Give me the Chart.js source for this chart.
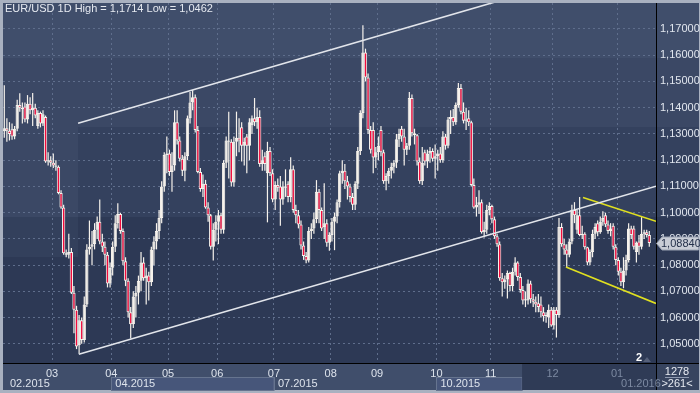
<!DOCTYPE html>
<html><head><meta charset="utf-8">
<script src="https://cdn.jsdelivr.net/npm/chart.js@4/dist/chart.umd.min.js"></script>
<style>html,body{margin:0;padding:0;background:#a9b1c0;}canvas{display:block;}</style>
</head><body><canvas id="c" width="700" height="393"></canvas>
<script>
const opens=[1.1310,1.1322,1.1312,1.1318,1.1290,1.1320,1.1410,1.1400,1.1405,1.1355,
1.1415,1.1390,1.1400,1.1330,1.1380,1.1340,1.1365,1.1195,1.1200,1.1190,
1.1180,1.1175,1.1075,1.1020,1.0845,1.0840,1.0850,1.0695,1.0630,1.0495,
1.0590,1.0515,1.0650,1.0860,1.0870,1.0880,1.0935,1.0965,1.0890,1.0870,
1.0840,1.0730,1.0790,1.0870,1.0960,1.0995,1.0930,1.0815,1.0740,1.0620,
1.0575,1.0680,1.0695,1.0740,1.0810,1.0750,1.0760,1.0735,1.0860,1.0890,
1.0930,1.0980,1.1100,1.1220,1.1225,1.1155,1.1180,1.1345,1.1275,1.1205,
1.1160,1.1215,1.1360,1.1420,1.1440,1.1315,1.1155,1.1090,1.1110,1.1020,
1.0990,1.0870,1.0935,1.0965,1.0990,1.0935,1.1190,1.1275,1.1270,1.1115,
1.1270,1.1285,1.1325,1.1255,1.1290,1.1255,1.1333,1.1360,1.1345,1.1365,
1.1185,1.1215,1.1150,1.1235,1.1150,1.1050,1.1105,1.1100,1.1050,1.1100,
1.1110,1.1060,1.1165,1.1010,1.0990,1.0955,1.0875,1.0835,1.0818,1.0930,
1.0940,1.0975,1.1080,1.1010,1.0945,1.0960,1.0885,1.0915,1.0965,1.0985,
1.1040,1.1150,1.1160,1.1120,1.1100,1.1060,1.1030,1.1110,1.1235,1.1380,
1.1610,1.1515,1.1315,1.1315,1.1210,1.1230,1.1315,1.1230,1.1120,1.1140,
1.1160,1.1175,1.1190,1.1280,1.1320,1.1290,1.1240,1.1255,1.1437,1.1303,
1.1295,1.1195,1.1120,1.1230,1.1195,1.1225,1.1235,1.1205,1.1215,1.1225,
1.1200,1.1290,1.1255,1.1355,1.1365,1.1345,1.1410,1.1475,1.1385,1.1350,
1.1360,1.1345,1.1105,1.1020,1.1030,1.1040,1.0925,1.0935,1.1010,1.1025,
1.0975,1.0910,1.0880,1.0750,1.0735,1.0745,1.0770,1.0720,1.0775,1.0810,
1.0755,1.0705,1.0665,1.0665,1.0730,1.0670,1.0660,1.0655,1.0650,1.0620,
1.0605,1.0600,1.0630,1.0570,1.0630,1.0610,1.0945,1.0880,1.0860,1.0840,
1.0890,1.1010,1.0935,1.0990,1.0915,1.0920,1.0868,1.0810,1.0850,1.0920,
1.0960,1.0925,1.0965,1.0990,1.0955,1.0930,1.0950,1.0870,1.0820,1.0775,
1.0735,1.0780,1.0820,1.0940,1.0940,1.0850,1.0890,1.0870,1.0920,1.0925,
1.0915];
const highs=[1.1486,1.1360,1.1345,1.1340,1.1330,1.1430,1.1455,1.1420,1.1420,1.1448,
1.1440,1.1456,1.1415,1.1390,1.1385,1.1390,1.1370,1.1230,1.1215,1.1225,
1.1200,1.1180,1.1085,1.1030,1.0860,1.0920,1.0865,1.0720,1.0645,1.0610,
1.0600,1.0680,1.0880,1.0970,1.0930,1.0960,1.0985,1.1050,1.0920,1.0890,
1.0850,1.0810,1.0890,1.0990,1.1036,1.1000,1.0940,1.0830,1.0750,1.0640,
1.0700,1.0720,1.0760,1.0850,1.0830,1.0790,1.0775,1.0870,1.0910,1.0960,
1.1010,1.1120,1.1230,1.1290,1.1240,1.1230,1.1390,1.1390,1.1290,1.1220,
1.1230,1.1370,1.1460,1.1467,1.1450,1.1330,1.1170,1.1145,1.1125,1.1040,
1.0995,1.0960,1.0990,1.1010,1.1000,1.1200,1.1290,1.1385,1.1280,1.1290,
1.1385,1.1360,1.1345,1.1285,1.1300,1.1360,1.1370,1.1437,1.1400,1.1390,
1.1240,1.1230,1.1270,1.1250,1.1165,1.1120,1.1130,1.1140,1.1120,1.1165,
1.1120,1.1211,1.1180,1.1030,1.1010,1.0970,1.0890,1.0850,1.0945,1.0960,
1.1000,1.1124,1.1090,1.1020,1.1112,1.0975,1.0925,1.0980,1.1000,1.1050,
1.1160,1.1200,1.1185,1.1140,1.1110,1.1075,1.1120,1.1250,1.1390,1.1714,
1.1625,1.1530,1.1330,1.1345,1.1250,1.1290,1.1330,1.1240,1.1150,1.1170,
1.1190,1.1200,1.1300,1.1320,1.1330,1.1320,1.1265,1.1460,1.1450,1.1320,
1.1300,1.1210,1.1250,1.1240,1.1240,1.1250,1.1245,1.1260,1.1240,1.1250,
1.1310,1.1300,1.1365,1.1390,1.1395,1.1420,1.1494,1.1490,1.1420,1.1400,
1.1390,1.1350,1.1130,1.1060,1.1085,1.1050,1.0965,1.1030,1.1040,1.1030,
1.0985,1.0920,1.0890,1.0770,1.0760,1.0780,1.0775,1.0790,1.0830,1.0815,
1.0770,1.0720,1.0700,1.0745,1.0740,1.0690,1.0680,1.0690,1.0680,1.0640,
1.0620,1.0650,1.0640,1.0640,1.0640,1.0980,1.0960,1.0900,1.0880,1.0900,
1.1030,1.1040,1.1010,1.1060,1.0950,1.0925,1.0870,1.0860,1.0935,1.0960,
1.0970,1.0985,1.1005,1.1000,1.0970,1.0960,1.0960,1.0880,1.0830,1.0790,
1.0830,1.0840,1.0960,1.0950,1.0950,1.0890,1.0915,1.0983,1.0935,1.0935,
1.0930];
const lows=[1.1285,1.1270,1.1275,1.1278,1.1280,1.1310,1.1385,1.1340,1.1345,1.1340,
1.1375,1.1330,1.1360,1.1320,1.1325,1.1330,1.1190,1.1180,1.1175,1.1170,
1.1160,1.1070,1.1015,1.0840,1.0830,1.0825,1.0690,1.0540,1.0480,1.0462,
1.0500,1.0505,1.0640,1.0840,1.0800,1.0860,1.0900,1.0880,1.0850,1.0800,
1.0715,1.0715,1.0760,1.0850,1.0940,1.0920,1.0800,1.0720,1.0600,1.0520,
1.0560,1.0600,1.0650,1.0700,1.0740,1.0650,1.0665,1.0720,1.0800,1.0860,
1.0900,1.0960,1.1080,1.1150,1.1140,1.1080,1.1160,1.1260,1.1195,1.1140,
1.1120,1.1200,1.1340,1.1390,1.1305,1.1150,1.1080,1.1060,1.1015,1.0965,
1.0860,1.0818,1.0890,1.0880,1.0920,1.0920,1.1170,1.1130,1.1100,1.1100,
1.1215,1.1230,1.1195,1.1180,1.1150,1.1200,1.1300,1.1330,1.1320,1.1175,
1.1160,1.1160,1.0963,1.1140,1.1040,1.1010,1.1080,1.0950,1.1030,1.1060,
1.1040,1.1040,1.1000,1.0960,1.0940,1.0860,1.0820,1.0807,1.0810,1.0900,
1.0920,1.0960,1.0960,1.0930,1.0900,1.0870,1.0855,1.0890,1.0857,1.0960,
1.1020,1.1110,1.1090,1.1050,1.1040,1.1010,1.1010,1.1090,1.1220,1.1360,
1.1500,1.1300,1.1225,1.1150,1.1170,1.1200,1.1215,1.1110,1.1085,1.1110,
1.1130,1.1150,1.1170,1.1250,1.1270,1.1180,1.1220,1.1240,1.1290,1.1260,
1.1180,1.1110,1.1105,1.1180,1.1170,1.1190,1.1195,1.1130,1.1160,1.1190,
1.1190,1.1240,1.1245,1.1300,1.1330,1.1335,1.1400,1.1375,1.1340,1.1315,
1.1330,1.1100,1.1015,1.0985,1.0995,1.0920,1.0905,1.0920,1.0990,1.0960,
1.0900,1.0870,1.0740,1.0680,1.0710,1.0673,1.0700,1.0700,1.0760,1.0740,
1.0695,1.0650,1.0640,1.0650,1.0655,1.0640,1.0620,1.0620,1.0600,1.0585,
1.0580,1.0560,1.0565,1.0555,1.0524,1.0600,1.0870,1.0840,1.0792,1.0830,
1.0880,1.0960,1.0920,1.0910,1.0900,1.0860,1.0800,1.0800,1.0830,1.0900,
1.0910,1.0920,1.0950,1.0945,1.0920,1.0910,1.0860,1.0800,1.0760,1.0720,
1.0712,1.0760,1.0810,1.0900,1.0860,1.0810,1.0840,1.0860,1.0900,1.0905,
1.0870];
const closes=[1.1322,1.1312,1.1300,1.1290,1.1320,1.1410,1.1400,1.1395,1.1355,1.1415,
1.1390,1.1400,1.1370,1.1380,1.1340,1.1375,1.1195,1.1200,1.1190,1.1180,
1.1175,1.1075,1.1020,1.0845,1.0840,1.0850,1.0695,1.0630,1.0490,1.0590,
1.0515,1.0650,1.0860,1.0870,1.0880,1.0935,1.0965,1.0890,1.0870,1.0840,
1.0730,1.0790,1.0870,1.0960,1.0995,1.0930,1.0815,1.0740,1.0620,1.0575,
1.0680,1.0695,1.0740,1.0810,1.0750,1.0760,1.0735,1.0860,1.0890,1.0930,
1.0980,1.1100,1.1220,1.1225,1.1155,1.1180,1.1345,1.1275,1.1205,1.1160,
1.1215,1.1360,1.1420,1.1440,1.1315,1.1155,1.1090,1.1110,1.1020,1.0990,
1.0870,1.0935,1.0965,1.0990,1.0935,1.1190,1.1275,1.1270,1.1115,1.1270,
1.1285,1.1275,1.1255,1.1270,1.1255,1.1345,1.1360,1.1345,1.1365,1.1185,
1.1200,1.1185,1.1235,1.1150,1.1050,1.1105,1.1095,1.1050,1.1100,1.1095,
1.1060,1.1165,1.1010,1.0990,1.0955,1.0875,1.0835,1.0818,1.0930,1.0940,
1.0975,1.1080,1.1010,1.0940,1.0960,1.0885,1.0915,1.0965,1.0985,1.1040,
1.1150,1.1160,1.1120,1.1100,1.1060,1.1030,1.1110,1.1235,1.1380,1.1610,
1.1515,1.1315,1.1240,1.1210,1.1230,1.1255,1.1230,1.1120,1.1140,1.1160,
1.1175,1.1190,1.1280,1.1300,1.1290,1.1240,1.1255,1.1437,1.1303,1.1295,
1.1195,1.1120,1.1190,1.1195,1.1225,1.1235,1.1205,1.1215,1.1225,1.1200,
1.1290,1.1255,1.1355,1.1365,1.1345,1.1410,1.1475,1.1385,1.1350,1.1355,
1.1345,1.1105,1.1020,1.1030,1.1040,1.0925,1.0935,1.1010,1.1025,1.0975,
1.0910,1.0880,1.0750,1.0735,1.0745,1.0770,1.0720,1.0775,1.0810,1.0755,
1.0705,1.0665,1.0670,1.0730,1.0670,1.0660,1.0650,1.0640,1.0620,1.0605,
1.0610,1.0630,1.0570,1.0630,1.0610,1.0945,1.0880,1.0860,1.0840,1.0890,
1.1010,1.0990,1.0990,1.0915,1.0920,1.0868,1.0810,1.0850,1.0920,1.0945,
1.0925,1.0965,1.0980,1.0955,1.0930,1.0940,1.0870,1.0820,1.0775,1.0735,
1.0780,1.0820,1.0940,1.0915,1.0870,1.0885,1.0870,1.0920,1.0925,1.0915,
1.0884];

const monthStarts=[19,42,64,83,105,127,145,168,189,213,238];
const monthLabels=['03','04','05','06','07','08','09','10','11','12','01'];
const quarterLabels=['02.2015','04.2015','07.2015','10.2015','01.2016'];
const quarterMonthIdx=[-1,1,4,7,10];
const yTicks=[1.05,1.06,1.07,1.08,1.09,1.10,1.11,1.12,1.13,1.14,1.15,1.16,1.17];
const channelUpper=[{x:28.6,y:1.1341},{x:191,y:1.1805}];
const channelLower=[{x:28.9,y:1.0460},{x:252.6,y:1.1101}];
const wedgeUpper=[{x:224.3,y:1.1058},{x:252.6,y:1.0967}];
const wedgeLower=[{x:217.7,y:1.0793},{x:252.6,y:1.0654}];
const barCount='1278', visibleCount='>261<', markerNum='2';

const FONT="'Liberation Sans Narrow','Arial Narrow','Liberation Sans',sans-serif";
const WHITE='#f6f2ec', RED='#f20a3c';
const N=opens.length;
const bodies=opens.map((o,i)=>({x:i,y:[o,closes[i]]}));
const wicks=highs.map((h,i)=>({x:i,y:[lows[i],h]}));
const down=opens.map((o,i)=>closes[i]<o);
const fmt=v=>v.toFixed(5).replace('.',',');
function fmt4(v){return v.toFixed(4).replace('.',',');}

const bgPlugin={id:'bg',beforeDraw(chart){
  const c=chart.ctx,a=chart.chartArea,W=chart.width;
  const xs=chart.scales.x;
  c.save();
  c.fillStyle='#a9b1c0';c.fillRect(0,0,W,chart.height);
  c.fillStyle='#2d3955';c.fillRect(a.left,a.top,W-a.left-1,a.bottom-a.top);
  c.fillStyle='#404e6b';c.fillRect(a.left,a.top,W-a.left-1,58-a.top);
  c.fillStyle='#3b4865';c.fillRect(a.left,58,W-a.left-1,69);
  c.fillStyle='#34415e';c.fillRect(a.left,127,W-a.left-1,90);
  c.fillStyle='#3b4865';c.fillRect(a.left,127,75,90);
  c.fillStyle='#33405c';c.fillRect(a.left,217,75,40);
  c.fillStyle='#404e6b';c.fillRect(a.left,a.bottom,W-a.left-1,390-a.bottom);
  const px=i=>xs.getPixelForValue(i);
  const qx=quarterMonthIdx.map(m=>m<0?a.left:px(monthStarts[m]-0.5));
  const darkX=px(200.7);
  c.fillStyle='#47567a';c.strokeStyle='#66748f';c.lineWidth=1;
  [[qx[1],qx[2]],[qx[3],darkX]].forEach(([l,r])=>{
    c.fillRect(l,377,r-l,13);c.strokeRect(Math.round(l)+0.5,377.5,r-l,13);
  });
  c.beginPath();c.moveTo(Math.round(qx[2])+0.5,377);c.lineTo(Math.round(qx[2])+0.5,390);c.stroke();
  c.fillStyle='#2f3b56';c.fillRect(darkX,a.bottom,a.right-darkX,390-a.bottom);
  c.fillStyle='#37445f';c.fillRect(a.right,a.bottom,W-a.right-1,390-a.bottom);
  c.restore();
}};

const overlayPlugin={id:'overlay',afterDraw(chart){
  const c=chart.ctx,a=chart.chartArea,xs=chart.scales.x,ys=chart.scales.y,W=chart.width;
  c.save();
  c.strokeStyle='#000';c.lineWidth=1;
  c.beginPath();c.moveTo(a.left,a.bottom+0.5);c.lineTo(W-1,a.bottom+0.5);c.stroke();
  c.beginPath();c.moveTo(Math.round(a.right)+0.5,a.bottom);c.lineTo(Math.round(a.right)+0.5,390);c.stroke();
  c.font='11px '+FONT;c.textBaseline='middle';c.textAlign='left';
  c.fillStyle='#e6eaf1';
  c.fillText('EUR/USD 1D High = '+fmt4(Math.max(...highs))+' Low = '+fmt4(Math.min(...lows)),5,8.5);
  quarterLabels.forEach((t,k)=>{
    const m=quarterMonthIdx[k];
    const x=m<0?a.left+7:xs.getPixelForValue(monthStarts[m]-0.5)+4;
    c.fillStyle=k===4?'#7d8aa2':'#dde3ec';
    c.fillText(t,x,384);
  });
  c.fillStyle='#ffffff';c.font='bold 11px '+FONT;c.fillText(markerNum,636,358);
  c.fillStyle='#55607a';c.beginPath();c.moveTo(643,362);c.lineTo(647,357);c.lineTo(651,362);c.closePath();c.fill();
  c.font='11px '+FONT;c.fillStyle='#e6eaf1';c.textAlign='center';
  c.fillText(barCount,677,372);c.fillText(visibleCount,677,384);
  c.strokeStyle='#8d98ae';c.beginPath();c.moveTo(665,377.5);c.lineTo(689,377.5);c.stroke();
  const last=closes[N-1],y=Math.round(ys.getPixelForValue(last))+0.5;
  c.fillStyle='#c9cdd6';c.strokeStyle='#9aa2b2';
  c.beginPath();c.moveTo(656.5,y);c.lineTo(662,y-6.5);c.lineTo(698.5,y-6.5);c.lineTo(698.5,y+6.5);c.lineTo(662,y+6.5);c.closePath();c.fill();c.stroke();
  c.fillStyle='#24304a';c.textAlign='left';c.fillText(fmt(last),661,y+0.5);
  c.restore();
}};

new Chart(document.getElementById('c'),{
  data:{datasets:[
    {type:'line',data:channelUpper,borderColor:'#e2e5eb',borderWidth:1.6,pointRadius:0,order:0},
    {type:'line',data:channelLower,borderColor:'#e2e5eb',borderWidth:1.6,pointRadius:0,order:0},
    {type:'line',data:wedgeUpper,borderColor:'#e0e020',borderWidth:1.6,pointRadius:0,order:0},
    {type:'line',data:wedgeLower,borderColor:'#e0e020',borderWidth:1.6,pointRadius:0,order:0},
    {type:'bar',data:bodies,backgroundColor:down.map(d=>d?RED:WHITE),borderColor:WHITE,borderWidth:1,
     borderSkipped:false,barThickness:3.3,grouped:false,order:1,minBarLength:1,inflateAmount:0},
    {type:'bar',data:wicks,backgroundColor:WHITE,barThickness:1.2,grouped:false,order:2,inflateAmount:0,borderWidth:0}
  ]},
  options:{
    responsive:false,devicePixelRatio:1,animation:false,
    layout:{padding:{left:3,top:3,right:0,bottom:0}},
    plugins:{legend:{display:false},tooltip:{enabled:false},title:{display:false}},
    scales:{
      x:{type:'linear',min:-0.5,max:252.6,position:'bottom',offset:false,
        afterBuildTicks:s=>{s.ticks=monthStarts.map(v=>({value:v-0.5}));},
        afterFit:s=>{s.height=30;s.paddingLeft=0;s.paddingRight=0;},
        ticks:{autoSkip:false,maxRotation:0,minRotation:0,padding:4,
          color:ctx=>ctx.index>=9?'#7d8aa2':'#dde3ec',
          font:{family:FONT,size:11},callback:(v,i)=>monthLabels[i]},
        grid:{color:'#5f6e8c',lineWidth:1,drawTicks:false,offset:false},
        border:{color:'#000',width:1,dash:[2,3]}
      },
      y:{type:'linear',position:'right',min:1.0427,max:1.1799,
        afterBuildTicks:s=>{s.ticks=yTicks.map(v=>({value:v}));},
        afterFit:s=>{s.width=44;s.paddingTop=0;s.paddingBottom=0;},
        ticks:{padding:4,color:'#e2e7ef',font:{family:FONT,size:11},callback:v=>fmt(v)},
        grid:{color:'#5f6e8c',lineWidth:1,drawTicks:false},
        border:{color:'#000',width:1,dash:[2,3]}
      }
    }
  },
  plugins:[bgPlugin,overlayPlugin]
});
</script>
</body></html>
